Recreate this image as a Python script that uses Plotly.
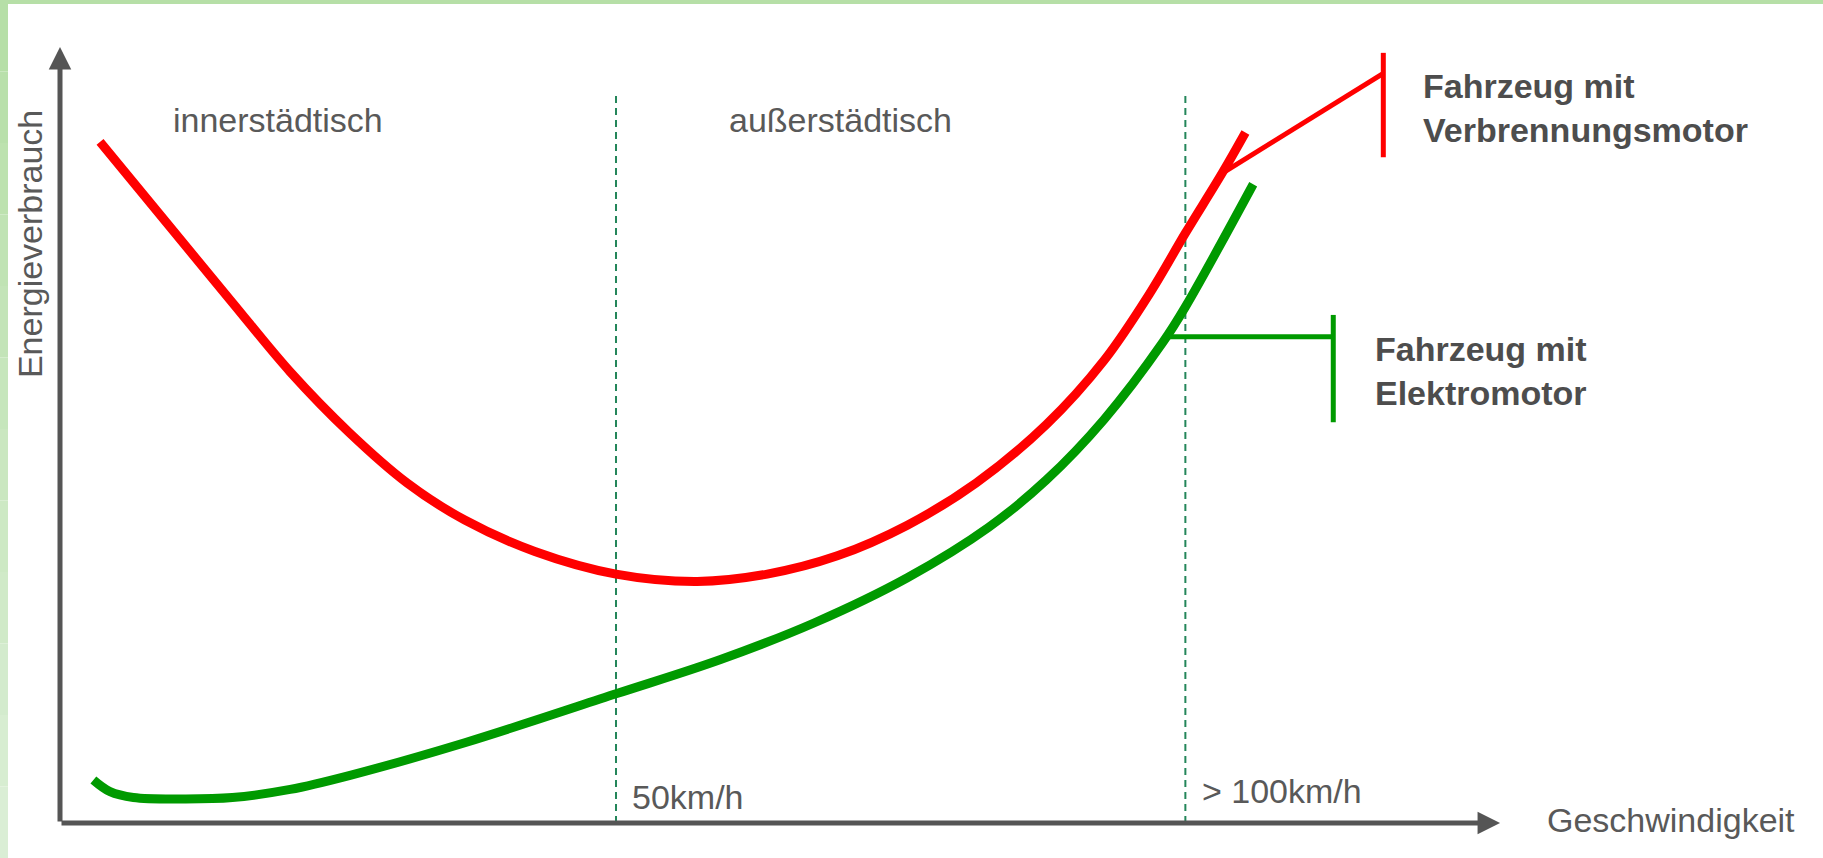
import plotly.graph_objects as go

# Energy consumption vs. speed (qualitative curves)
red_speed = [3.6, 10.3, 15.5, 20.7, 26.0, 31.2, 36.4, 42.7, 50.0, 57.3, 63.6,
             69.9, 76.2, 82.4, 88.7, 93.9, 98.1, 101.2, 104.5, 106.6]
red_energy = [93.3, 80.9, 71.3, 61.8, 53.5, 46.6, 41.5, 37.2, 34.1, 33.1, 34.1,
              36.6, 40.8, 46.6, 54.6, 63.4, 72.8, 80.8, 89.0, 94.6]

green_speed = [3.0, 4.5, 6.6, 11.3, 15.5, 20.7, 26.0, 36.4, 50.0, 59.4, 67.8,
               76.2, 83.5, 88.7, 93.9, 99.2, 101.2, 107.3]
green_energy = [5.9, 4.3, 3.5, 3.3, 3.5, 4.6, 6.5, 11.0, 17.7, 22.4, 27.4,
                33.6, 40.5, 47.0, 55.3, 65.9, 70.7, 87.5]

# speed thresholds separating the driving zones
zone_limits = [50.0, 101.2]
zone_labels = ["50km/h", "> 100km/h"]
zone_names = ["innerstädtisch", "außerstädtisch"]
zone_name_x = [10.0, 60.0]

series_labels = ["Fahrzeug mit<br>Verbrennungsmotor", "Fahrzeug mit<br>Elektromotor"]

RED = "#ff0000"
GREEN = "#009a00"
AXIS = "#555555"
TEXT = "#595959"
FONT = "Liberation Sans, Arial, sans-serif"

X_RANGE = [-5.396, 158.54]
Y_RANGE = [-4.79, 112.74]

fig = go.Figure()

# zone boundaries
for xv in zone_limits:
    fig.add_trace(go.Scatter(x=[xv, xv], y=[0, 100], mode="lines",
                             line=dict(color="#24865a", width=2, dash="7px,5px"),
                             hoverinfo="skip", showlegend=False))

fig.add_trace(go.Scatter(x=red_speed, y=red_energy, mode="lines",
                         line=dict(color=RED, width=9, shape="spline", smoothing=1.0),
                         name="Verbrennungsmotor", showlegend=False))
fig.add_trace(go.Scatter(x=green_speed, y=green_energy, mode="lines",
                         line=dict(color=GREEN, width=9, shape="spline", smoothing=1.0),
                         name="Elektromotor", showlegend=False))

# callout brackets linking curves to their labels
red_call_x = [104.5, 119.0]
red_call_y = [89.0, 102.7]
red_bar_x = [119.0, 119.0]
red_bar_y = [105.5, 91.2]
green_call_x = [99.5, 114.5]
green_call_y = [66.6, 66.6]
green_bar_x = [114.5, 114.5]
green_bar_y = [69.6, 54.9]
for xs, ys, c in [(red_call_x, red_call_y, RED), (red_bar_x, red_bar_y, RED),
                  (green_call_x, green_call_y, GREEN), (green_bar_x, green_bar_y, GREEN)]:
    fig.add_trace(go.Scatter(x=xs, y=ys, mode="lines", line=dict(color=c, width=5),
                             hoverinfo="skip", showlegend=False))

annotations = []
# axes as arrows
annotations.append(dict(x=0, y=106.3, ax=0, ay=0, xref="x", yref="y", axref="x", ayref="y",
                        showarrow=True, arrowhead=2, arrowsize=0.9, arrowwidth=5,
                        arrowcolor=AXIS, text=""))
annotations.append(dict(x=129.5, y=0, ax=0, ay=0, xref="x", yref="y", axref="x", ayref="y",
                        showarrow=True, arrowhead=2, arrowsize=0.9, arrowwidth=5,
                        arrowcolor=AXIS, text=""))

annotations.append(dict(x=-2.7, y=79.3, xref="x", yref="y", text="Energieverbrauch",
                        textangle=-90, showarrow=False,
                        font=dict(family=FONT, size=34, color=TEXT)))
annotations.append(dict(x=133.5, y=0.4, xref="x", yref="y", text="Geschwindigkeit",
                        xanchor="left", showarrow=False,
                        font=dict(family=FONT, size=34, color=TEXT)))

for name, xv in zip(zone_names, zone_name_x):
    annotations.append(dict(x=xv, y=96.3, xref="x", yref="y", text=name, xanchor="left",
                            showarrow=False, font=dict(family=FONT, size=34, color=TEXT)))

for lab, xv, yv in zip(zone_labels, zone_limits, [3.6, 4.4]):
    annotations.append(dict(x=xv + 1.3, y=yv, xref="x", yref="y", text=lab, xanchor="left",
                            showarrow=False, font=dict(family=FONT, size=34, color=TEXT)))

annotations.append(dict(x=122.4, y=97.9, xref="x", yref="y", text="<b>" + series_labels[0] + "</b>",
                        xanchor="left", align="left", showarrow=False,
                        font=dict(family=FONT, size=34, color="#4d4d4d")))
annotations.append(dict(x=118.1, y=61.9, xref="x", yref="y", text="<b>" + series_labels[1] + "</b>",
                        xanchor="left", align="left", showarrow=False,
                        font=dict(family=FONT, size=34, color="#4d4d4d")))

# light green frame on the top and left edges
W, H = 1823, 858
shapes = [dict(type="rect", xref="paper", yref="paper", x0=0, x1=1, y0=1 - 4 / H, y1=1,
               fillcolor="#b6dfa7", line=dict(width=0), layer="below")]
n = 12
top_c = (182, 223, 167)
bot_c = (218, 238, 213)
for i in range(n):
    t = i / (n - 1)
    c = tuple(round(top_c[k] + (bot_c[k] - top_c[k]) * t) for k in range(3))
    shapes.append(dict(type="rect", xref="paper", yref="paper", x0=0, x1=8 / W,
                       y0=1 - (i + 1) / n, y1=1 - i / n,
                       fillcolor="rgb(%d,%d,%d)" % c, line=dict(width=0), layer="below"))

fig.update_layout(
    width=W, height=H, margin=dict(l=0, r=0, t=0, b=0),
    paper_bgcolor="white", plot_bgcolor="white",
    xaxis=dict(range=X_RANGE, visible=False, fixedrange=True),
    yaxis=dict(range=Y_RANGE, visible=False, fixedrange=True),
    annotations=annotations, shapes=shapes, showlegend=False,
)

fig.write_html("out.html")
